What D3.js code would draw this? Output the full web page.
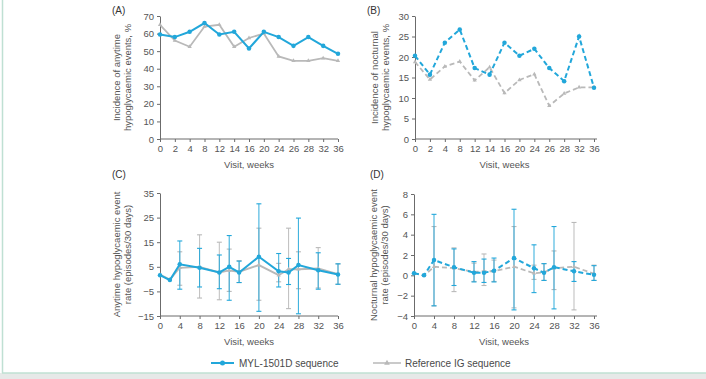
<!DOCTYPE html>
<meta charset="utf-8">
<style>
body { margin: 0; background: #e9ecea; }
text { font-family: "Liberation Sans", Arial, sans-serif; fill: #4a4a4a; }
.axis path, .axis line { stroke: #6b6b6b; stroke-width: 1px; }
.axis text { font-size: 9.5px; fill: #555; }
.ttl { font-size: 9.5px; fill: #555; }
.plabel { font-size: 10px; fill: #333; }
</style>
<body>
<script src="https://d3js.org/d3.v7.min.js"></script>
<script>

// visits (weeks)
var visits = [0, 2, 4, 8, 12, 14, 16, 20, 24, 26, 28, 32, 36];

// (A) incidence of anytime hypoglycaemic events, %
var aMyl = [59.5, 58, 61, 66, 59.5, 61, 51.5, 61, 58, 53, 58, 53, 48.5];
var aRef = [65, 56, 52.5, 64, 65, 52.5, 57.5, 60, 47, 44.5, 44.5, 46, 44.5];

// (B) incidence of nocturnal hypoglycaemic events, %
var bMyl = [20.3, 15.7, 23.5, 26.7, 17.3, 15.7, 23.5, 20.3, 22, 17.3, 14.1, 25, 12.5];
var bRef = [18.8, 14.5, 17.7, 18.9, 14.3, 17.5, 11.2, 14.4, 15.8, 8.1, 11.1, 12.6, 12.6];

// (C) anytime event rate (episodes/30 days), mean and error bar ends
var cMyl = [1.6, -0.4, 6, 4.6, 2.7, 5, 2.7, 9.1, 3.2, 2.7, 5.7, 3.6, 1.9];
var cMylLo = [null, null, -4.1, -3.2, -3.9, -8.6, -1.4, -13.1, -3.2, -2.2, -14.1, -4.1, -2.1];
var cMylHi = [null, null, 15.5, 12.5, 9.8, 17.7, 7.3, 30.6, 10.4, 8.4, 24.8, 10.7, 6.2];
var cRef = [1.8, -0.2, 4.6, 5, 2.7, 3.5, 3, 5.7, 1.6, 4, 4, 4.3, 2];
var cRefLo = [null, null, -2.5, -7.7, -8.4, -5, -1.4, -8.6, -1.1, -12, -3.9, -3.6, -2.1];
var cRefHi = [null, null, 11.1, 18, 15, 12.2, 7.5, 20.7, 6.4, 20.7, 11.1, 12.8, 6.2];

// (D) nocturnal event rate (episodes/30 days)
var dMyl = [0.2, 0, 1.5, 0.8, 0.25, 0.25, 0.45, 1.7, 0.7, 0.25, 0.8, 0.4, 0.05];
var dMylLo = [null, null, -3.0, -1.0, -0.65, -0.7, -0.65, -3.4, -1.7, -0.5, -3.3, -0.6, -0.5];
var dMylHi = [null, null, 6.0, 2.6, 1.35, 1.6, 1.7, 6.5, 3.0, 1.15, 4.8, 1.35, 0.95];
var dRef = [0.25, -0.05, 0.85, 0.7, 0.35, 0.4, 0.4, 0.85, 0.2, 0.3, 0.7, 0.85, 0.15];
var dRefLo = [null, null, -3.0, -1.6, -0.6, -1.0, -0.6, -3.2, -0.4, -0.5, -1.4, -3.4, -0.5];
var dRefHi = [null, null, 4.8, 2.7, 1.2, 2.1, 1.5, 4.8, 1.0, 1.15, 2.4, 5.2, 1.0];

var ticksCD = [0, 4, 8, 12, 16, 20, 24, 28, 32, 36];

var blue = "#22a7da", grey = "#b9b9b9";

var W = 706, H = 379;
var svg = d3.select("body").append("svg").attr("width", W).attr("height", H);

// frame: white card with green left and bottom edge, grey strip below
svg.append("rect").attr("x", 0).attr("y", 0).attr("width", W).attr("height", H).attr("fill", "#e6e9e8");
svg.append("rect").attr("x", 0).attr("y", 0).attr("width", W).attr("height", 373).attr("fill", "white");
svg.append("line").attr("x1", 2.5).attr("x2", 2.5).attr("y1", 0).attr("y2", 373)
    .attr("stroke", "#bfe0d3").attr("stroke-width", 1.5);
svg.append("line").attr("x1", 2).attr("x2", W).attr("y1", 373).attr("y2", 373)
    .attr("stroke", "#bfe0d3").attr("stroke-width", 1.5);

function panel(o) {
    var g = svg.append("g");
    var x;
    if (o.point) {
        x = d3.scalePoint().domain(visits).range([o.x0, o.x1]);
    } else {
        x = d3.scaleLinear().domain([0, 36]).range([o.x0, o.x1]);
    }
    var y = d3.scaleLinear().domain(o.ydom).range([o.y1, o.y0]);

    var xa = o.point ? d3.axisBottom(x) : d3.axisBottom(x).tickValues(ticksCD);
    g.append("g").attr("class", "axis").attr("transform", "translate(0," + o.y1 + ")")
        .call(xa.tickSize(3).tickSizeOuter(0))
        .call(function(s) { s.select(".domain").attr("d", "M" + o.x0 + ",0H" + (o.xEnd || o.x1)); });
    g.append("g").attr("class", "axis").attr("transform", "translate(" + o.x0 + ",0)")
        .call(d3.axisLeft(y).tickValues(o.yticks).tickSize(3).tickSizeOuter(0));

    g.append("text").attr("class", "plabel").attr("x", o.lx).attr("y", o.ly).text(o.label);
    g.append("text").attr("class", "ttl").attr("text-anchor", "middle")
        .attr("x", (o.x0 + o.x1) / 2).attr("y", o.y1 + 29).text("Visit, weeks");
    var yt = g.append("text").attr("class", "ttl").attr("text-anchor", "middle")
        .attr("transform", "translate(" + (o.x0 - o.tOff) + "," + ((o.y0 + o.y1) / 2) + ") rotate(-90)");
    yt.append("tspan").attr("x", 0).attr("dy", 0).text(o.ytitle[0]);
    yt.append("tspan").attr("x", 0).attr("dy", "1.15em").text(o.ytitle[1]);

    var line = d3.line().x(function(d, i) { return x(visits[i]); }).y(function(d) { return y(d); });

    o.series.forEach(function(s) {
        // error bars
        if (s.lo) {
            s.lo.forEach(function(lo, i) {
                if (lo === null) return;
                var xx = x(visits[i]);
                g.append("line").attr("x1", xx).attr("x2", xx).attr("y1", y(lo)).attr("y2", y(s.hi[i]))
                    .attr("stroke", s.color).attr("stroke-width", 1.1).attr("opacity", 0.85);
                [lo, s.hi[i]].forEach(function(v) {
                    g.append("line").attr("x1", xx - 2.5).attr("x2", xx + 2.5).attr("y1", y(v)).attr("y2", y(v))
                        .attr("stroke", s.color).attr("stroke-width", 1.1);
                });
            });
        }
    });
    o.series.forEach(function(s) {
        g.append("path").datum(s.vals).attr("d", line).attr("fill", "none")
            .attr("stroke", s.color).attr("stroke-width", s.w)
            .attr("stroke-dasharray", o.dash ? "5,3" : null);
        g.selectAll(null).data(s.vals).enter().append("path")
            .attr("transform", function(d, i) { return "translate(" + x(visits[i]) + "," + y(d) + ")"; })
            .attr("d", d3.symbol().type(s.sym).size(s.size))
            .attr("fill", s.color);
    });
}

var sMyl = function(v, lo, hi) { return {vals: v, lo: lo, hi: hi, color: blue, w: 2, sym: d3.symbolCircle, size: 16}; };
var sRef = function(v, lo, hi) { return {vals: v, lo: lo, hi: hi, color: grey, w: 1.8, sym: d3.symbolTriangle, size: 8}; };

panel({label: "(A)", lx: 112, ly: 14, tOff: 40, point: true, x0: 160, x1: 338, y0: 16, y1: 139, ydom: [0, 70],
    yticks: [0, 10, 20, 30, 40, 50, 60, 70],
    ytitle: ["Incidence of anytime", "hypoglycaemic events, %"],
    series: [sRef(aRef), sMyl(aMyl)]});

panel({label: "(B)", lx: 367, ly: 14, tOff: 37, point: true, dash: true, x0: 415, x1: 594, xEnd: 597, y0: 16, y1: 139, ydom: [0, 30],
    yticks: [0, 5, 10, 15, 20, 25, 30],
    ytitle: ["Incidence of nocturnal", "hypoglycaemic events, %"],
    series: [sRef(bRef), sMyl(bMyl)]});

panel({label: "(C)", lx: 112, ly: 178, tOff: 40, x0: 160, x1: 338, y0: 193, y1: 316, ydom: [-15, 35],
    yticks: [-15, -5, 5, 15, 25, 35],
    ytitle: ["Anytime hypoglycaemic event", "rate (episodes/30 days)"],
    series: [sRef(cRef, cRefLo, cRefHi), sMyl(cMyl, cMylLo, cMylHi)]});

panel({label: "(D)", lx: 370, ly: 178, tOff: 37, dash: true, x0: 414, x1: 594, xEnd: 597, y0: 194, y1: 316, ydom: [-4, 8],
    yticks: [-4, -2, 0, 2, 4, 6, 8],
    ytitle: ["Nocturnal hypoglycaemic event", "rate (episodes/30 days)"],
    series: [sRef(dRef, dRefLo, dRefHi), sMyl(dMyl, dMylLo, dMylHi)]});

// legend
var lg = svg.append("g").attr("transform", "translate(0,363)");
lg.append("line").attr("x1", 211).attr("x2", 234).attr("stroke", blue).attr("stroke-width", 2);
lg.append("circle").attr("cx", 222.5).attr("r", 2.5).attr("fill", blue);
lg.append("text").attr("x", 239).attr("y", 3.5).attr("font-size", 10).text("MYL-1501D sequence");
lg.append("line").attr("x1", 373).attr("x2", 401).attr("stroke", grey).attr("stroke-width", 1.5);
lg.append("path").attr("transform", "translate(387,0)").attr("d", d3.symbol().type(d3.symbolTriangle).size(14)).attr("fill", grey);
lg.append("text").attr("x", 405).attr("y", 3.5).attr("font-size", 10).text("Reference IG sequence");

</script>
</body>
